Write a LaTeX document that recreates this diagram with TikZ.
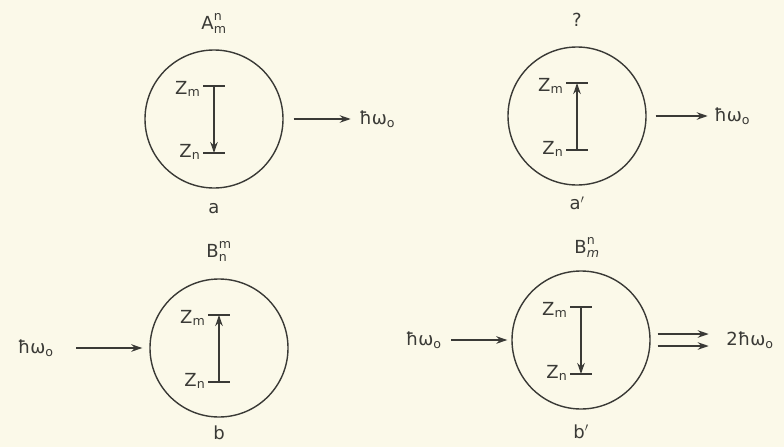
\documentclass[tikz,border=0pt]{standalone}
\usepackage{amsmath}
\usepackage{fontspec}
\setmainfont{DejaVu Sans}
\usetikzlibrary{arrows.meta, positioning, calc}
\definecolor{paper}{RGB}{251,249,233}
\definecolor{ink}{RGB}{58,58,54}
\newcommand{\hw}{ħω\textsubscript{o}}

\begin{document}
\begin{tikzpicture}[x=1pt, y=-1pt, >={Stealth[length=11pt,width=7.5pt]}, ink, line width=1.4pt,
  atom/.style={circle, draw, minimum size=138pt, inner sep=0pt},
  lab/.style={font=\fontsize{18}{21}\selectfont, inner sep=2pt}]
  \fill[paper] (0,0) rectangle (784,447);
  \useasboundingbox (0,0) rectangle (784,447);
  % atoms: name/centre/arrow from level to level
  \foreach \n/\cx/\cy/\s/\e in {a/214/119/t/b, ap/577/116/b/t, b/219/348/b/t, bp/581/340/t/b}{
    \node[atom] (\n) at (\cx,\cy) {};
    \coordinate (\n-t) at (\cx,\cy-33);
    \coordinate (\n-b) at (\cx,\cy+34);
    \coordinate (\n-tl) at (\cx-11,\cy-33);
    \coordinate (\n-tr) at (\cx+11,\cy-33);
    \coordinate (\n-bl) at (\cx-11,\cy+34);
    \coordinate (\n-br) at (\cx+11,\cy+34);
    \draw (\n-tl) -- (\n-tr);
    \draw (\n-bl) -- (\n-br);
    \draw[->, line width=1.7pt] (\n-\s) -- (\n-\e);
    \node[lab, anchor=base east] (\n-zm) at ($(\n-tl)+(0,8)$) {Z\textsubscript{m}};
    \node[lab, anchor=base east] (\n-zn) at ($(\n-bl)+(0,4)$) {Z\textsubscript{n}};
  }
  % names above, letters below
  \node[lab, above=13pt of a] (a-top) {$\text{A}^{\text{n}}_{\text{m}}$};
  \node[lab, above=17pt of ap] (ap-top) {?};
  \node[lab, above=14pt of b] (b-top) {$\text{B}^{\text{m}}_{\text{n}}$};
  \node[lab, above=10pt of bp, xshift=6pt] (bp-top) {$\text{B}^{\text{n}}_{\text{\textit{m}}}$};
  \node[lab, below=12pt of a] (a-bot) {a};
  \node[lab, below=8pt of ap] (ap-bot) {a$'$};
  \node[lab, below=5pt of b] (b-bot) {b};
  \node[lab, below=12pt of bp] (bp-bot) {b$'$};
  % photons
  \node[lab, right=73pt of a] (a-out) {\hw};
  \draw[->, shorten <=10pt, shorten >=6pt] (a) -- (a-out);
  \node[lab, right=65pt of ap] (ap-out) {\hw};
  \draw[->, shorten <=9pt, shorten >=4pt] (ap) -- (ap-out);
  \node[lab, left=93pt of b] (b-in) {\hw};
  \draw[->, shorten <=20pt, shorten >=7pt] (b-in) -- (b);
  \node[lab, left=67pt of bp] (bp-in) {\hw};
  \draw[->, shorten <=7pt, shorten >=4pt] (bp-in) -- (bp);
  \node[lab, right=73pt of bp] (bp-out) {2\hw};
  \draw[->, shorten <=7pt, shorten >=15pt] ([yshift=6pt]bp.east) -- ([yshift=6pt]bp-out.west);
  \draw[->, shorten <=7pt, shorten >=15pt] ([yshift=-6pt]bp.east) -- ([yshift=-6pt]bp-out.west);
\end{tikzpicture}
\end{document}
